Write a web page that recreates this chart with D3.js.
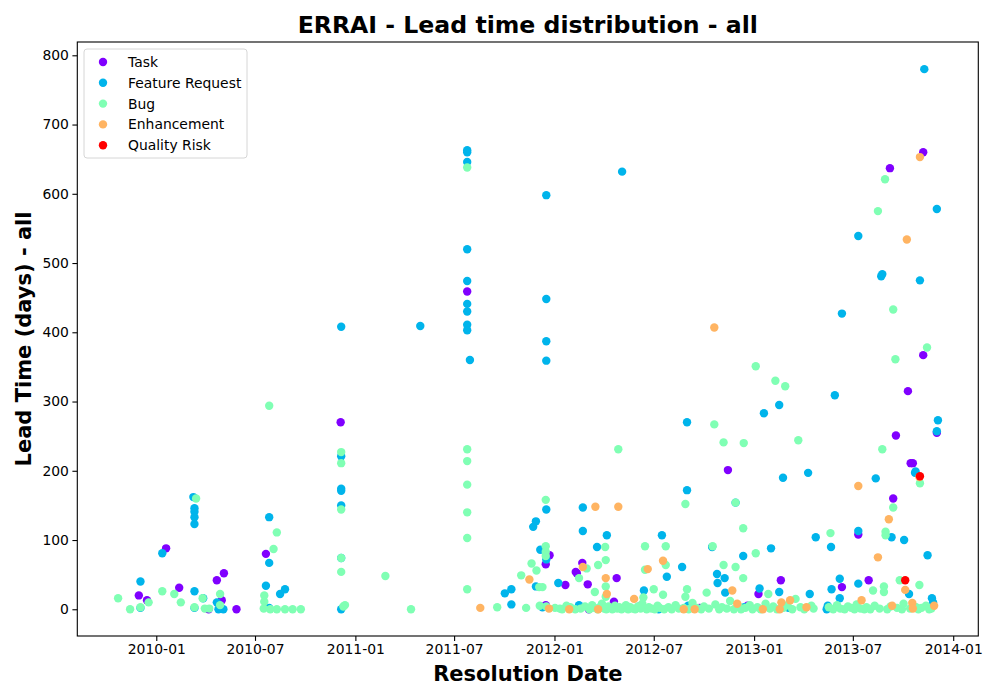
<!DOCTYPE html>
<html>
<head>
<meta charset="utf-8">
<script src="https://cdn.jsdelivr.net/npm/d3@7"></script>
<style>
  body { margin: 0; background: #fff; }
  svg { font-family: "DejaVu Sans", sans-serif; }
</style>
</head>
<body>
<svg id="chart" width="1000" height="700"></svg>
<script>
// categories in the order matplotlib drew them
var categories = ["Task", "Feature Request", "Bug", "Enhancement", "Quality Risk"];
var colors = ["#8000ff", "#00b4eb", "#80ffb4", "#ffb462", "#ff0000"];

var xTicks = ["2010-01", "2010-07", "2011-01", "2011-07", "2012-01",
              "2012-07", "2013-01", "2013-07", "2014-01"];
var yTicks = [0, 100, 200, 300, 400, 500, 600, 700, 800];

var task = [
  ["2009-11-30", 20], ["2009-12-15", 13], ["2010-01-19", 88], ["2010-02-12", 31],
  ["2010-04-07", 0], ["2010-04-22", 42], ["2010-05-01", 13], ["2010-05-05", 52],
  ["2010-05-28", 0], ["2010-07-21", 80], ["2010-12-05", 270], ["2011-07-25", 459],
  ["2011-12-16", 65], ["2011-12-23", 78], ["2011-12-16", 6], ["2012-01-21", 35],
  ["2012-02-09", 54], ["2012-02-11", 52], ["2012-02-21", 67], ["2012-03-02", 36],
  ["2012-03-04", 0], ["2012-04-19", 11], ["2012-04-24", 45], ["2012-06-05", 4],
  ["2012-09-23", 2], ["2012-11-14", 201], ["2012-12-20", 5], ["2013-01-09", 22],
  ["2013-02-19", 42], ["2013-06-11", 32], ["2013-07-11", 108], ["2013-07-30", 42],
  ["2013-09-07", 637], ["2013-09-13", 160], ["2013-09-18", 251], ["2013-10-10", 315],
  ["2013-10-15", 211], ["2013-10-19", 211], ["2013-11-07", 367], ["2013-11-07", 660],
  ["2013-12-02", 255]
];

var featureRequest = [
  ["2009-12-03", 40], ["2009-12-03", 2], ["2010-01-12", 81], ["2010-03-10", 162],
  ["2010-03-12", 146], ["2010-03-12", 141], ["2010-03-12", 133], ["2010-03-12", 123],
  ["2010-03-12", 26], ["2010-03-12", 2], ["2010-03-28", 16], ["2010-04-22", 10],
  ["2010-04-25", 0], ["2010-05-04", 0], ["2010-07-21", 34], ["2010-07-27", 133],
  ["2010-07-27", 67], ["2010-07-27", 2], ["2010-08-16", 22], ["2010-08-25", 29],
  ["2010-12-06", 408], ["2010-12-06", 221], ["2010-12-06", 174], ["2010-12-06", 171],
  ["2010-12-06", 150], ["2010-12-06", 74], ["2010-12-06", 0], ["2011-04-30", 409],
  ["2011-07-25", 663], ["2011-07-25", 660], ["2011-07-25", 646], ["2011-07-25", 520],
  ["2011-07-25", 474], ["2011-07-25", 441], ["2011-07-25", 430], ["2011-07-25", 411],
  ["2011-07-25", 403], ["2011-07-30", 360], ["2011-10-02", 23], ["2011-10-14", 29],
  ["2011-10-14", 7], ["2011-11-23", 119], ["2011-11-28", 127], ["2011-11-28", 33],
  ["2011-12-06", 86], ["2011-12-17", 598], ["2011-12-17", 448], ["2011-12-17", 387],
  ["2011-12-17", 359], ["2011-12-17", 144], ["2011-12-17", 72], ["2011-12-10", 3],
  ["2012-01-08", 38], ["2012-02-15", 6], ["2012-02-22", 147], ["2012-02-22", 113],
  ["2012-03-19", 90], ["2012-03-25", 3], ["2012-04-06", 107], ["2012-05-04", 632],
  ["2012-05-09", 2], ["2012-06-13", 27], ["2012-07-10", 0], ["2012-07-16", 107],
  ["2012-07-25", 47], ["2012-08-22", 61], ["2012-08-31", 270], ["2012-08-31", 172],
  ["2012-09-02", 5], ["2012-10-16", 90], ["2012-10-25", 51], ["2012-10-26", 38],
  ["2012-11-08", 45], ["2012-11-09", 24], ["2012-11-28", 154], ["2012-12-12", 77],
  ["2012-12-14", 3], ["2013-01-11", 30], ["2013-01-19", 283], ["2013-02-01", 88],
  ["2013-02-16", 295], ["2013-02-16", 25], ["2013-02-23", 190], ["2013-03-05", 2],
  ["2013-04-10", 197], ["2013-04-13", 22], ["2013-04-24", 104], ["2013-05-14", 0],
  ["2013-05-16", 5], ["2013-05-22", 90], ["2013-05-23", 29], ["2013-05-29", 309],
  ["2013-06-07", 44], ["2013-06-07", 16], ["2013-06-11", 427], ["2013-07-11", 539],
  ["2013-07-11", 113], ["2013-07-11", 37], ["2013-08-12", 189], ["2013-08-22", 481],
  ["2013-08-24", 484], ["2013-09-10", 104], ["2013-10-03", 100], ["2013-10-12", 22],
  ["2013-10-23", 197], ["2013-10-24", 199], ["2013-10-26", 2], ["2013-11-01", 475],
  ["2013-11-09", 780], ["2013-11-15", 78], ["2013-11-23", 16], ["2013-11-25", 10],
  ["2013-12-02", 578], ["2013-12-02", 257], ["2013-12-04", 273]
];

var bug = [
  ["2009-10-23", 16], ["2009-11-14", 0], ["2009-12-03", 3], ["2009-12-18", 10],
  ["2010-01-12", 26], ["2010-02-03", 22], ["2010-02-15", 10], ["2010-03-15", 160],
  ["2010-03-27", 16], ["2010-03-12", 3], ["2010-03-31", 1], ["2010-04-08", 1],
  ["2010-04-28", 22], ["2010-04-28", 6], ["2010-07-27", 294], ["2010-08-10", 111],
  ["2010-08-04", 87], ["2010-07-18", 20], ["2010-07-18", 11], ["2010-07-17", 1],
  ["2010-07-29", 0], ["2010-08-10", 0], ["2010-08-25", 0], ["2010-09-08", 0],
  ["2010-09-23", 0], ["2010-12-06", 227], ["2010-12-06", 211], ["2010-12-06", 144],
  ["2010-12-06", 74], ["2010-12-06", 54], ["2010-12-10", 4], ["2010-12-13", 6],
  ["2011-02-25", 48], ["2011-04-13", 0], ["2011-07-25", 638], ["2011-07-25", 231],
  ["2011-07-25", 214], ["2011-07-25", 180], ["2011-07-25", 140], ["2011-07-25", 103],
  ["2011-07-25", 29], ["2011-09-18", 3], ["2011-11-01", 49], ["2011-11-10", 2],
  ["2011-11-20", 66], ["2011-11-29", 56], ["2011-12-04", 32], ["2011-12-10", 32],
  ["2011-12-05", 5], ["2011-12-17", 4], ["2011-12-16", 158], ["2011-12-16", 91],
  ["2011-12-16", 83], ["2011-12-16", 77], ["2012-01-11", 1], ["2012-01-23", 5],
  ["2012-02-15", 45], ["2012-02-29", 59], ["2012-03-21", 64], ["2012-04-04", 71],
  ["2012-04-03", 90], ["2012-03-15", 25], ["2012-04-04", 33], ["2012-04-04", 18],
  ["2012-04-27", 231], ["2012-06-15", 91], ["2012-06-15", 57], ["2012-07-23", 91],
  ["2012-07-23", 64], ["2012-07-01", 29], ["2012-08-28", 152], ["2012-08-28", 18],
  ["2012-08-31", 29], ["2012-07-18", 21], ["2012-06-12", 17], ["2012-10-06", 24],
  ["2012-10-17", 91], ["2012-10-20", 267], ["2012-11-06", 64], ["2012-11-06", 241],
  ["2012-11-28", 61], ["2012-11-28", 154], ["2012-12-12", 117], ["2012-12-12", 45],
  ["2012-12-13", 240], ["2013-01-04", 81], ["2013-01-04", 351], ["2013-01-27", 22],
  ["2013-02-09", 330], ["2013-02-27", 322], ["2013-03-23", 244], ["2013-05-21", 110],
  ["2013-08-07", 27], ["2013-08-16", 575], ["2013-08-24", 231], ["2013-08-27", 33],
  ["2013-08-27", 25], ["2013-08-29", 621], ["2013-08-30", 112], ["2013-08-30", 107],
  ["2013-09-13", 433], ["2013-09-13", 147], ["2013-09-17", 361], ["2013-09-25", 42],
  ["2013-10-31", 35], ["2013-11-01", 182], ["2013-11-14", 378],
  // the crowded band close to zero
  ["2012-01-02", 2], ["2012-01-15", 0], ["2012-01-30", 3], ["2012-02-08", 0],
  ["2012-02-18", 1], ["2012-02-26", 4], ["2012-03-05", 0], ["2012-03-10", 6],
  ["2012-03-14", 2], ["2012-03-20", 0], ["2012-03-24", 3], ["2012-03-28", 8],
  ["2012-04-01", 1], ["2012-04-05", 0], ["2012-04-09", 4], ["2012-04-12", 2],
  ["2012-04-16", 0], ["2012-04-21", 5], ["2012-04-25", 1], ["2012-04-29", 3],
  ["2012-05-03", 0], ["2012-05-07", 2], ["2012-05-11", 6], ["2012-05-15", 0],
  ["2012-05-19", 3], ["2012-05-23", 1], ["2012-05-28", 0], ["2012-06-02", 4],
  ["2012-06-07", 1], ["2012-06-10", 8], ["2012-06-18", 0], ["2012-06-22", 3],
  ["2012-06-27", 1], ["2012-07-03", 0], ["2012-07-08", 5], ["2012-07-12", 2],
  ["2012-07-20", 0], ["2012-07-28", 3], ["2012-08-03", 0], ["2012-08-10", 6],
  ["2012-08-16", 1], ["2012-08-25", 2], ["2012-09-03", 0], ["2012-09-10", 9],
  ["2012-09-18", 2], ["2012-09-26", 0], ["2012-10-01", 4], ["2012-10-10", 1],
  ["2012-10-22", 7], ["2012-10-29", 0], ["2012-11-03", 3], ["2012-11-12", 1],
  ["2012-11-18", 12], ["2012-11-25", 0], ["2012-12-04", 4], ["2012-12-08", 0],
  ["2012-12-16", 2], ["2012-12-24", 6], ["2012-12-29", 0], ["2013-01-07", 3],
  ["2013-01-13", 0], ["2013-01-22", 8], ["2013-01-30", 1], ["2013-02-05", 4],
  ["2013-02-12", 0], ["2013-02-24", 2], ["2013-03-03", 6], ["2013-03-12", 0],
  ["2013-03-18", 15], ["2013-03-27", 3], ["2013-04-03", 0], ["2013-04-16", 5],
  ["2013-04-20", 1], ["2013-05-18", 3], ["2013-05-26", 0], ["2013-06-02", 6],
  ["2013-06-08", 1], ["2013-06-16", 0], ["2013-06-22", 4], ["2013-06-28", 2],
  ["2013-07-04", 0], ["2013-07-08", 7], ["2013-07-15", 1], ["2013-07-22", 0],
  ["2013-07-26", 3], ["2013-08-02", 0], ["2013-08-10", 5], ["2013-08-19", 1],
  ["2013-09-02", 0], ["2013-09-08", 4], ["2013-09-20", 2], ["2013-09-29", 0],
  ["2013-10-02", 8], ["2013-10-14", 1], ["2013-10-25", 3], ["2013-10-29", 0],
  ["2013-11-04", 2], ["2013-11-12", 5], ["2013-11-18", 0], ["2013-11-22", 1]
];

var enhancement = [
  ["2011-08-18", 2], ["2011-11-16", 43], ["2011-12-22", 1], ["2012-01-28", 0],
  ["2012-02-22", 61], ["2012-03-16", 148], ["2012-03-21", 0], ["2012-04-04", 45],
  ["2012-04-06", 22], ["2012-04-27", 148], ["2012-05-26", 15], ["2012-06-20", 58],
  ["2012-07-18", 70], ["2012-08-25", 0], ["2012-09-14", 0], ["2012-10-20", 407],
  ["2012-11-22", 27], ["2012-12-01", 8], ["2013-01-17", 0], ["2013-02-17", 0],
  ["2013-02-20", 10], ["2013-03-08", 13], ["2013-04-07", 3], ["2013-07-11", 178],
  ["2013-07-17", 13], ["2013-08-16", 75], ["2013-09-05", 130], ["2013-09-11", 5],
  ["2013-10-05", 28], ["2013-10-08", 534], ["2013-10-18", 9], ["2013-10-19", 1],
  ["2013-10-31", 191], ["2013-11-01", 653], ["2013-11-27", 5]
];

var qualityRisk = [
  ["2013-10-05", 42], ["2013-11-01", 192]
];

var series = [task, featureRequest, bug, enhancement, qualityRisk];

var svg = d3.select("#chart");
var margin = { left: 77.3, right: 978.3, top: 42, bottom: 636 };
var parse = d3.utcParse("%Y-%m-%d");
var parseMonth = d3.utcParse("%Y-%m");

var x = d3.scaleUtc()
  .domain([new Date(Date.UTC(2009, 7, 9, 5)), new Date(Date.UTC(2014, 1, 16))])
  .range([margin.left, margin.right]);
var y = d3.scaleLinear()
  .domain([-38.6, 819.2])
  .range([margin.bottom, margin.top]);

// points, one group per category so later ones sit on top
series.forEach(function(rows, i) {
  svg.append("g")
    .selectAll("circle")
    .data(rows)
    .enter().append("circle")
    .attr("cx", function(d) { return x(parse(d[0])); })
    .attr("cy", function(d) { return y(d[1]); })
    .attr("r", 4.2)
    .attr("fill", colors[i]);
});

// axes
var xAxis = d3.axisBottom(x)
  .tickValues(xTicks.map(parseMonth))
  .tickFormat(d3.utcFormat("%Y-%m"))
  .tickSize(4.9).tickPadding(3.5);
var yAxis = d3.axisLeft(y)
  .tickValues(yTicks)
  .tickSize(4.9).tickPadding(3.5);

var gx = svg.append("g")
  .attr("transform", "translate(0," + margin.bottom + ")")
  .call(xAxis);
var gy = svg.append("g")
  .attr("transform", "translate(" + margin.left + ",0)")
  .call(yAxis);
[gx, gy].forEach(function(g) {
  g.select(".domain").remove();
  g.selectAll("line").attr("stroke", "#000").attr("stroke-width", 1.1);
  g.selectAll("text").attr("fill", "#000")
    .style("font-size", "13.9px").style("font-family", "DejaVu Sans");
});

// frame
svg.append("rect")
  .attr("x", margin.left).attr("y", margin.top)
  .attr("width", margin.right - margin.left)
  .attr("height", margin.bottom - margin.top)
  .attr("fill", "none").attr("stroke", "#000").attr("stroke-width", 1.1);

// titles
svg.append("text")
  .attr("x", (margin.left + margin.right) / 2).attr("y", 32.5)
  .attr("text-anchor", "middle")
  .style("font-size", "23.6px").style("font-weight", "bold")
  .text("ERRAI - Lead time distribution - all");
svg.append("text")
  .attr("x", (margin.left + margin.right) / 2).attr("y", 681)
  .attr("text-anchor", "middle")
  .style("font-size", "21px").style("font-weight", "bold")
  .text("Resolution Date");
svg.append("text")
  .attr("transform", "translate(31," + (margin.top + margin.bottom) / 2 + ") rotate(-90)")
  .attr("text-anchor", "middle")
  .style("font-size", "21px").style("font-weight", "bold")
  .text("Lead Time (days) - all");

// legend
var legend = svg.append("g");
legend.append("rect")
  .attr("x", 84).attr("y", 49).attr("width", 163).attr("height", 109)
  .attr("rx", 3)
  .attr("fill", "#fff").attr("fill-opacity", 0.8)
  .attr("stroke", "#d6d6d6").attr("stroke-width", 1);
var items = legend.selectAll("g.item")
  .data(categories)
  .enter().append("g")
  .attr("class", "item")
  .attr("transform", function(d, i) { return "translate(0," + (62 + i * 20.8) + ")"; });
items.append("circle")
  .attr("cx", 103).attr("cy", 0).attr("r", 4.2)
  .attr("fill", function(d, i) { return colors[i]; });
items.append("text")
  .attr("x", 128).attr("y", 5)
  .style("font-size", "13.9px")
  .text(function(d) { return d; });
</script>
</body>
</html>
